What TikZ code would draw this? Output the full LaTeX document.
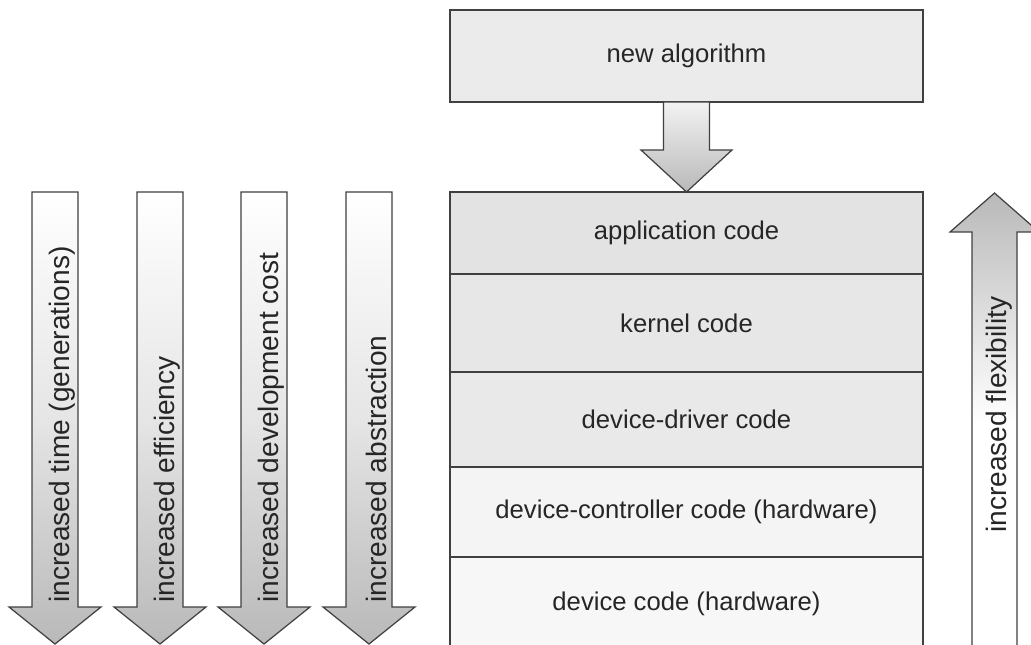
\documentclass[tikz,border=0pt]{standalone}
\usepackage{fontspec}
\setmainfont{Liberation Sans}
\usepackage{tikz}
\usetikzlibrary{positioning, calc}
\tikzset{
  layer/.style={rectangle, minimum width=9.46cm, draw=black!75, line width=0.7pt, text centered, text=black!85, inner sep=0pt, outer sep=0pt, font=\fontsize{14.6}{17}\selectfont},
  bigarrow/.style={draw=black!75, line width=0.7pt},
  downshade/.style={bigarrow, top color=white, bottom color=gray!55, middle color=gray!20},
  upshade/.style={bigarrow, top color=gray!55, bottom color=white, middle color=white},
  vlabel/.style={rotate=90, anchor=west, inner sep=0pt, text=black!85, font=\fontsize{16}{19}\selectfont}
}

\begin{document}
\begin{tikzpicture}[x=0.02cm, y=-0.02cm]
        \useasboundingbox (0,0) rectangle (1031,645);

        % algorithm on top of the layer stack
        \node (algo) [layer, minimum height=1.84cm, fill=gray!16] at (686.5,56) {new algorithm};
        \node (app) [layer, minimum height=1.64cm, fill=gray!22, anchor=north] at (686.5,192) {application code};
        \node (kernel) [layer, minimum height=1.96cm, fill=gray!19, below=0pt of app] {kernel code};
        \node (driver) [layer, minimum height=1.90cm, fill=gray!17, below=0pt of kernel] {device-driver code};
        \node (ctrl) [layer, minimum height=1.80cm, fill=gray!9, below=0pt of driver] {device-controller code (hardware)};
        \node (dev) [layer, minimum height=1.86cm, fill=gray!6, below=0pt of ctrl] {device code (hardware)};

        % block arrow from the algorithm into the stack
        \draw [bigarrow, top color=gray!10, bottom color=gray!55] ($(algo.south)+(-23,0)$) -- ($(algo.south)+(-23,48)$) -- ++(-22.5,0) -- (app.north) -- ($(algo.south)+(45.5,48)$) -- ++(-22.5,0) -- ($(algo.south)+(23,0)$) -- cycle;

        % trade-off arrows on the left
        \draw [downshade] (32,192) -- (32,607) -- (9,607) -- (55,644) -- (101,607) -- (78,607) -- (78,192) -- cycle;
        \draw [downshade] (137,192) -- (137,607) -- (114,607) -- (160,644) -- (206,607) -- (183,607) -- (183,192) -- cycle;
        \draw [downshade] (241,192) -- (241,607) -- (218,607) -- (264,644) -- (310,607) -- (287,607) -- (287,192) -- cycle;
        \draw [downshade] (346,192) -- (346,607) -- (323,607) -- (369,644) -- (415,607) -- (392,607) -- (392,192) -- cycle;
        \node (time) [vlabel] at (62,603) {increased time (generations)};
        \node (eff) [vlabel] at (167,603) {increased efficiency};
        \node (cost) [vlabel] at (271,603) {increased development cost};
        \node (abstr) [vlabel] at (376,603) {increased abstraction};

        % flexibility arrow on the right
        \draw [upshade] (972,652) -- (972,232) -- (950,232) -- (994.5,193) -- (1039,232) -- (1017,232) -- (1017,652) -- cycle;
        \node (flex) [vlabel] at (999,533) {increased flexibility};
    \end{tikzpicture}
\end{document}
